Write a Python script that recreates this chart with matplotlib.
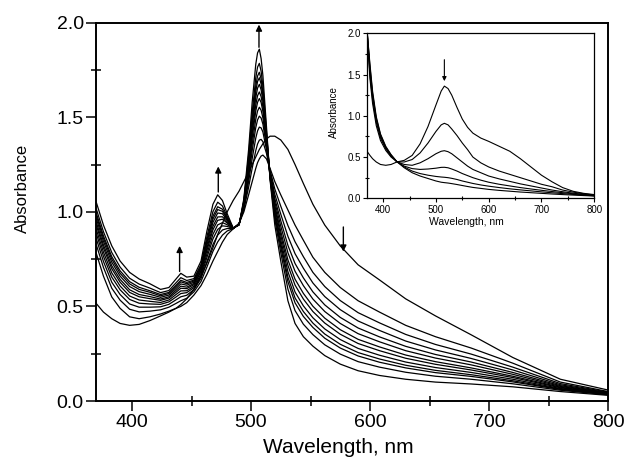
import numpy as np
import matplotlib
matplotlib.use("Agg")
import matplotlib.pyplot as plt
from matplotlib.ticker import MultipleLocator

plt.rcParams['font.family'] = ['Liberation Sans', 'DejaVu Sans']

# main panel: wavelength grid (nm)
wl = [370, 376, 383, 390, 398, 406, 415, 424, 431, 437, 441, 446, 452, 458, 463, 468,
      472, 476, 480, 485, 490, 494, 498, 501, 504, 505.5, 507, 508.5, 510, 513, 516, 520,
      525, 531, 537, 544, 552, 562, 575, 590, 608, 630, 655, 685, 720, 760, 800]

# starting spectrum (broad band at 517 nm)
broad = [.515, .47, .435, .41, .40, .405, .425, .45, .47, .49, .51, .54, .59, .66, .73, .81,
         .88, .94, 1.00, 1.06, 1.11, 1.16, 1.21, 1.25, 1.29, 1.31, 1.33, 1.345, 1.36, 1.385, 1.40, 1.40,
         1.38, 1.33, 1.25, 1.15, 1.04, .93, .82, .72, .64, .54, .45, .35, .23, .115, .058]

# titration spectra, sharp band at 507 nm growing
s01 = [.78, .66, .55, .49, .445, .435, .445, .46, .475, .49, .50, .52, .56, .61, .67, .74,
       .79, .84, .88, .91, .94, 1.00, 1.09, 1.16, 1.23, 1.26, 1.28, 1.295, 1.30, 1.28, 1.23, 1.16,
       1.09, 1.01, .93, .85, .76, .68, .60, .53, .47, .40, .34, .28, .20, .10, .05]
s02 = [.826, .706, .596, .533, .485, .471, .475, .482, .496, .516, .530, .543, .577, .632, .709, .791,
       .841, .877, .899, .911, .938, 1.012, 1.131, 1.231, 1.324, 1.359, 1.379, 1.383, 1.371, 1.309, 1.220, 1.121,
       1.030, .928, .842, .763, .680, .605, .531, .467, .413, .352, .299, .248, .179, .092, .047]
s03 = [.858, .738, .628, .563, .513, .496, .496, .498, .511, .535, .551, .559, .589, .648, .737, .827,
       .877, .904, .912, .911, .937, 1.020, 1.160, 1.282, 1.390, 1.428, 1.448, 1.444, 1.422, 1.329, 1.213, 1.093,
       .988, .871, .779, .702, .624, .552, .483, .423, .373, .317, .270, .225, .164, .086, .044]
s04 = [.885, .765, .655, .588, .537, .517, .513, .511, .524, .550, .568, .573, .599, .661, .760, .857,
       .907, .926, .923, .912, .936, 1.027, 1.184, 1.324, 1.445, 1.486, 1.506, 1.496, 1.464, 1.346, 1.207, 1.070,
       .953, .823, .727, .651, .577, .508, .442, .386, .339, .289, .246, .206, .151, .081, .042]
s05 = [.907, .787, .677, .608, .555, .534, .527, .521, .534, .563, .582, .583, .607, .671, .778, .881,
       .931, .943, .932, .912, .935, 1.033, 1.203, 1.357, 1.489, 1.533, 1.553, 1.537, 1.497, 1.360, 1.202, 1.052,
       .925, .784, .686, .610, .539, .473, .410, .356, .313, .266, .227, .191, .141, .077, .041]
s06 = [.929, .809, .699, .628, .574, .551, .541, .532, .544, .575, .596, .594, .615, .682, .797, .905,
       .955, .961, .941, .913, .935, 1.039, 1.222, 1.391, 1.533, 1.579, 1.599, 1.578, 1.531, 1.374, 1.197, 1.033,
       .897, .746, .644, .569, .501, .438, .377, .326, .286, .243, .208, .175, .131, .073, .039]
s07 = [.945, .825, .715, .643, .588, .563, .552, .539, .551, .585, .607, .602, .621, .689, .810, .923,
       .973, .974, .947, .913, .934, 1.043, 1.236, 1.416, 1.566, 1.614, 1.634, 1.609, 1.556, 1.384, 1.193, 1.020,
       .876, .717, .613, .539, .473, .412, .353, .304, .266, .226, .194, .164, .124, .070, .038]
s08 = [.964, .844, .734, .660, .605, .578, .564, .548, .560, .595, .619, .612, .628, .698, .826, .944,
       .994, .990, .955, .913, .933, 1.048, 1.253, 1.446, 1.604, 1.654, 1.674, 1.645, 1.586, 1.396, 1.189, 1.004,
       .852, .684, .576, .503, .440, .381, .325, .278, .242, .206, .177, .151, .115, .066, .036]
s09 = [.980, .860, .750, .675, .619, .590, .575, .556, .568, .605, .630, .620, .634, .706, .840, .962,
       1.012, 1.003, .961, .914, .933, 1.052, 1.268, 1.471, 1.637, 1.689, 1.709, 1.676, 1.611, 1.406, 1.186, .990,
       .831, .655, .545, .473, .412, .354, .300, .256, .222, .189, .162, .139, .107, .063, .035]
s10 = [.993, .873, .763, .688, .631, .601, .583, .563, .574, .612, .638, .627, .639, .713, .852, .977,
       1.027, 1.014, .967, .914, .932, 1.055, 1.280, 1.492, 1.665, 1.718, 1.738, 1.702, 1.632, 1.414, 1.183, .978,
       .813, .631, .519, .447, .389, .332, .280, .238, .205, .175, .150, .130, .101, .061, .034]
s11 = [1.015, .895, .785, .708, .649, .618, .597, .573, .584, .625, .652, .637, .647, .723, .870, 1.001,
       1.051, 1.031, .976, .914, .931, 1.061, 1.299, 1.525, 1.709, 1.765, 1.785, 1.743, 1.665, 1.428, 1.178, .960,
       .785, .592, .478, .406, .351, .297, .248, .208, .179, .152, .131, .115, .091, .057, .033]
s12 = [1.05, .93, .82, .74, .68, .645, .62, .59, .60, .645, .675, .655, .66, .74, .90, 1.04,
       1.09, 1.06, .99, .915, .93, 1.07, 1.33, 1.58, 1.78, 1.84, 1.86, 1.81, 1.72, 1.45, 1.17, .93,
       .74, .53, .41, .34, .29, .24, .195, .16, .135, .115, .10, .09, .075, .05, .03]

# inset
wl_in = [370, 375, 380, 387, 395, 405, 415, 426, 440, 455, 470, 485, 500, 510, 516, 523,
         530, 540, 550, 560, 570, 585, 600, 620, 640, 660, 680, 700, 720, 740, 760, 780, 800]
in0 = [.565, .52, .48, .44, .41, .40, .41, .44, .46, .52, .66, .87, 1.13, 1.30, 1.36, 1.33,
       1.25, 1.10, .96, .86, .79, .73, .69, .63, .57, .48, .38, .28, .20, .13, .085, .06, .045]
in1 = [1.95, 1.45, 1.15, .88, .70, .58, .50, .444, .44, .47, .55, .67, .81, .89, .909, .89,
       .84, .76, .67, .59, .50, .43, .38, .33, .29, .25, .21, .17, .14, .10, .075, .055, .04]
in2 = [1.98, 1.50, 1.20, .92, .73, .60, .51, .444, .41, .40, .43, .48, .54, .57, .577, .565,
       .54, .49, .44, .39, .35, .31, .27, .235, .205, .175, .15, .125, .10, .08, .062, .048, .035]
in3 = [2.0, 1.55, 1.24, .95, .75, .61, .52, .444, .39, .36, .35, .355, .365, .375, .376, .37,
       .355, .33, .30, .275, .25, .22, .195, .17, .15, .13, .113, .097, .082, .068, .055, .043, .032]
in4 = [2.0, 1.60, 1.27, .97, .77, .62, .525, .444, .38, .33, .30, .28, .265, .258, .255, .25,
       .242, .228, .21, .195, .18, .162, .147, .13, .115, .102, .09, .078, .067, .057, .047, .038, .03]
in5 = [2.0, 1.63, 1.30, .99, .78, .63, .53, .444, .37, .31, .27, .24, .21, .195, .19, .185,
       .178, .167, .155, .143, .132, .12, .108, .096, .086, .076, .068, .06, .052, .045, .039, .033, .028]

fig = plt.figure(figsize=(6.27, 4.63), dpi=100)
ax = fig.add_axes([0.1536, 0.1339, 0.8161, 0.8171])

for s in [broad, s01, s02, s03, s04, s05, s06, s07, s08, s09, s10, s11, s12]:
    ax.plot(wl, s, color='black', lw=0.9)

ax.set_xlim(370, 800)
ax.set_ylim(0, 2.0)
ax.set_xticks([400, 500, 600, 700, 800])
ax.set_yticks([0.0, 0.5, 1.0, 1.5, 2.0])
ax.set_yticklabels(['0.0', '0.5', '1.0', '1.5', '2.0'])
ax.xaxis.set_minor_locator(MultipleLocator(50))
ax.yaxis.set_minor_locator(MultipleLocator(0.25))
ax.tick_params(which='major', direction='out', length=7, width=1.1, labelsize=14, pad=2)
ax.tick_params(which='minor', direction='inout', length=7, width=1.1)
for sp in ax.spines.values():
    sp.set_linewidth(1.4)

ax.set_xlabel('Wavelength, nm', fontsize=15)
ax.set_ylabel('Absorbance', fontsize=12)
ax.xaxis.label.set_va('center')
ax.yaxis.label.set_va('center')
ax.xaxis.set_label_coords(0.473, -0.122)
ax.yaxis.set_label_coords(-0.145, 0.563)

arrow = dict(arrowstyle='-|>', color='black', lw=1, mutation_scale=9, shrinkA=0, shrinkB=0)
ax.annotate('', xy=(440, 0.82), xytext=(440, 0.685), arrowprops=arrow)
ax.annotate('', xy=(472.5, 1.24), xytext=(472.5, 1.105), arrowprops=arrow)
ax.annotate('', xy=(506.7, 1.99), xytext=(506.7, 1.87), arrowprops=arrow)
ax.annotate('', xy=(577.6, 0.79), xytext=(577.6, 0.92), arrowprops=arrow)

# inset
axi = fig.add_axes([0.5858, 0.5717, 0.362, 0.3564])
for s in [in0, in1, in2, in3, in4, in5]:
    axi.plot(wl_in, s, color='black', lw=0.8)
axi.set_xlim(370, 800)
axi.set_ylim(0, 2.0)
axi.set_xticks([400, 500, 600, 700, 800])
axi.set_yticks([0.0, 0.5, 1.0, 1.5, 2.0])
axi.set_yticklabels(['0.0', '0.5', '1.0', '1.5', '2.0'])
axi.xaxis.set_minor_locator(MultipleLocator(50))
axi.yaxis.set_minor_locator(MultipleLocator(0.25))
axi.tick_params(which='major', direction='out', length=3, width=0.8, labelsize=7, pad=1.5)
axi.tick_params(which='minor', direction='inout', length=3, width=0.8)
for sp in axi.spines.values():
    sp.set_linewidth(0.9)
axi.set_xlabel('Wavelength, nm', fontsize=7.5)
axi.set_ylabel('Absorbance', fontsize=7)
axi.xaxis.label.set_va('center')
axi.yaxis.label.set_va('center')
axi.xaxis.set_label_coords(0.437, -0.142)
axi.yaxis.set_label_coords(-0.147, 0.523)
axi.annotate('', xy=(516, 1.42), xytext=(516, 1.68),
             arrowprops=dict(arrowstyle='-|>', color='black', lw=0.8, mutation_scale=6,
                             shrinkA=0, shrinkB=0))

fig.savefig('out.png', dpi=100)
